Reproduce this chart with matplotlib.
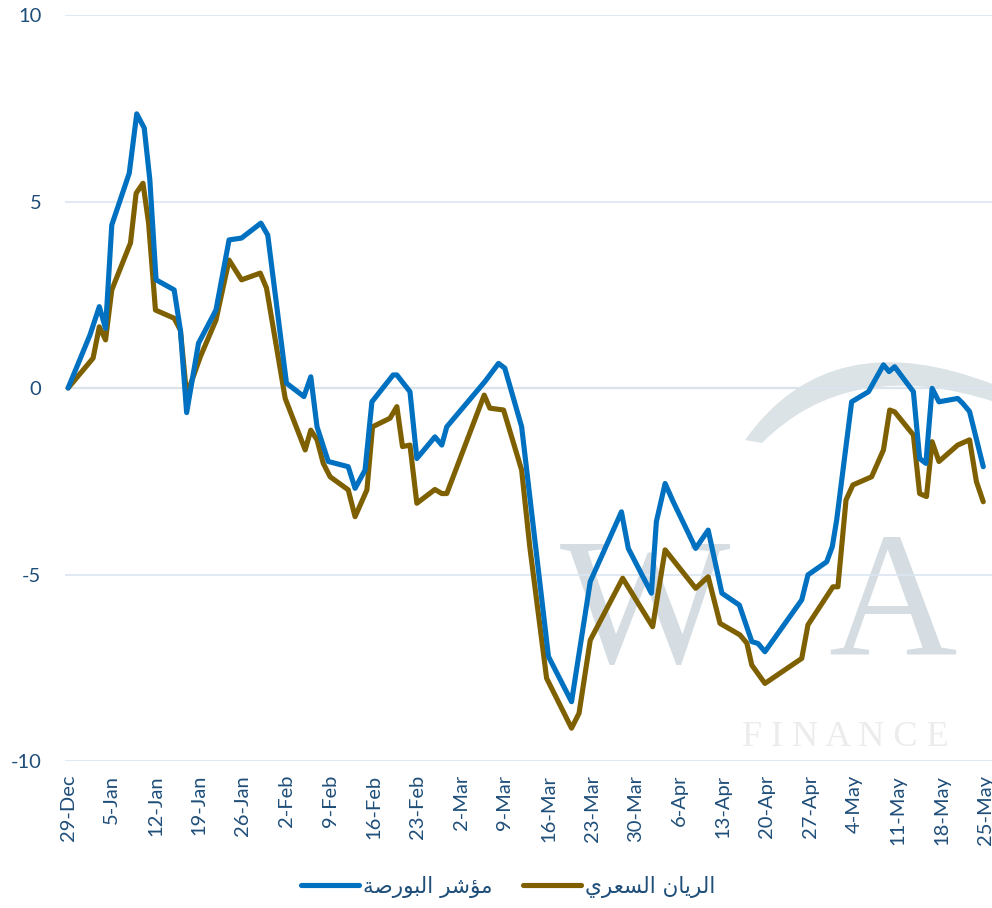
import matplotlib
matplotlib.use('Agg')
import matplotlib.pyplot as plt
from matplotlib.path import Path
from matplotlib.patches import PathPatch

# days counted from 29-Dec
blue_days = [0, 3.5, 5, 6, 7, 9.8, 11, 12.2, 13.1, 14.1, 17, 18, 19, 20.9, 23.7, 25.8, 27.8,
             30.9, 32, 35, 37.8, 38.9, 39.9, 41.7, 44.9, 46, 47.6, 48.7, 52.1, 52.7, 54.8,
             55.9, 58.8, 59.9, 60.7, 66.8, 69, 70, 72.7, 77, 80.7, 83.7, 88.7, 89.8, 93.5,
             94.3, 95.7, 97, 100.6, 102.6, 104.8, 107.6, 109.6, 110.6, 111.7, 117.6, 118.6,
             121.6, 122.5, 123.2, 125.6, 128.3, 130.7, 131.6, 132.5, 135.5, 136.5, 137.5,
             138.5, 139.6, 142.6, 143.4, 144.5, 146.7]
blue_vals = [0, 1.42, 2.18, 1.6, 4.37, 5.76, 7.35, 6.97, 5.58, 2.9, 2.63, 1.55, -0.66, 1.2,
             2.09, 3.97, 4.02, 4.42, 4.1, 0.13, -0.23, 0.3, -1.04, -1.97, -2.11, -2.69, -2.2,
             -0.37, 0.35, 0.35, -0.1, -1.89, -1.31, -1.53, -1.04, 0.17, 0.66, 0.53, -1.04,
             -7.2, -8.41, -5.19, -3.32, -4.3, -5.5, -3.58, -2.56, -3.05, -4.3, -3.81, -5.5,
             -5.82, -6.8, -6.85, -7.07, -5.68, -5.01, -4.66, -4.25, -3.54, -0.37, -0.1, 0.62,
             0.44, 0.57, -0.1, -1.89, -2.02, -0.01, -0.37, -0.28, -0.41, -0.63, -2.11]

brown_days = [0, 4, 5, 6, 7, 10, 10.9, 12, 12.9, 14, 17, 18, 19, 21.2, 23.7, 25.8, 27.8, 30.8,
              31.8, 34.8, 38, 38.9, 39.9, 40.9, 42, 44.9, 46, 47.9, 48.8, 51.6, 52.7, 53.6,
              54.8, 55.9, 58.8, 59.9, 60.7, 66.7, 67.6, 69.8, 72.7, 74, 76.7, 80.7, 81.9,
              83.7, 88.9, 93.7, 95.7, 100.6, 102.6, 104.5, 107.7, 108.8, 109.6, 111.7, 117.6,
              118.6, 122.6, 123.4, 124.7, 125.8, 128.8, 130.7, 131.7, 132.5, 135.5, 136.5,
              137.6, 138.5, 139.6, 142.6, 144.5, 145.6, 146.7]
brown_vals = [0, 0.8, 1.64, 1.29, 2.63, 3.89, 5.22, 5.49, 4.42, 2.09, 1.87, 1.55, -0.19, 0.84,
              1.82, 3.43, 2.9, 3.08, 2.68, -0.28, -1.66, -1.13, -1.39, -2.02, -2.38, -2.73,
              -3.45, -2.73, -1.04, -0.81, -0.5, -1.57, -1.53, -3.09, -2.72, -2.83, -2.83,
              -0.19, -0.54, -0.59, -2.2, -4.25, -7.78, -9.12, -8.72, -6.76, -5.1, -6.4, -4.34,
              -5.37, -5.06, -6.31, -6.62, -6.84, -7.43, -7.92, -7.25, -6.35, -5.33, -5.33,
              -3.0, -2.6, -2.38, -1.66, -0.59, -0.64, -1.26, -2.83, -2.91, -1.44, -1.97,
              -1.53, -1.39, -2.51, -3.05]

tick_days = list(range(0, 148, 7))
tick_labels = ['29-Dec', '5-Jan', '12-Jan', '19-Jan', '26-Jan', '2-Feb', '9-Feb', '16-Feb',
               '23-Feb', '2-Mar', '9-Mar', '16-Mar', '23-Mar', '30-Mar', '6-Apr', '13-Apr',
               '20-Apr', '27-Apr', '4-May', '11-May', '18-May', '25-May']

# Arabic labels in shaped presentation forms, visual order
# مؤشر البورصة / الريان السعري
label_blue = '\uFE94\uFEBB\uFEAD\uFEEE\uFE92\uFEDF\uFE8D \uFEAE\uFEB7\uFE86\uFEE3'
label_brown = '\uFEF1\uFEAE\uFECC\uFEB4\uFEDF\uFE8D \uFEE5\uFE8E\uFEF3\uFEAE\uFEDF\uFE8D'

txt_col = '#1F4E79'
plt.rcParams['font.family'] = ['Lato', 'DejaVu Sans']

fig = plt.figure(figsize=(9.92, 9.08), dpi=100)
W, H = 992, 908

# faint watermark behind the plot
fig.text(560 / W, 1 - 662 / H, 'W', fontsize=130, family='Liberation Serif',
         color='#CBD5DB', alpha=0.8, zorder=0)
fig.text(828 / W, 1 - 655 / H, 'A', fontsize=128, family='Liberation Serif',
         color='#CBD5DB', alpha=0.8, zorder=0)
fig.text(742 / W, 1 - 746 / H, 'F I N A N C E', fontsize=26, family='Liberation Serif',
         color='#ECECEC', zorder=0)
arc = Path([(745 / W, 1 - 440 / H), (830 / W, 1 - 320 / H), (995 / W, 1 - 385 / H),
            (995 / W, 1 - 402 / H), (850 / W, 1 - 355 / H), (762 / W, 1 - 443 / H),
            (745 / W, 1 - 440 / H)],
           [Path.MOVETO, Path.CURVE3, Path.CURVE3, Path.LINETO, Path.CURVE3, Path.CURVE3,
            Path.CLOSEPOLY])
fig.patches.append(PathPatch(arc, transform=fig.transFigure, facecolor='#D3DCE1',
                             edgecolor='none', alpha=0.8, zorder=0))

ax = fig.add_axes([65 / W, 1 - 761 / H, 1 - 65 / W, (761 - 15) / H])
ax.set_zorder(2)
ax.patch.set_alpha(0)

ax.plot(blue_days, blue_vals, color='#0070C0', lw=3.7, label=label_blue,
        solid_joinstyle='round', solid_capstyle='round', zorder=3)
ax.plot(brown_days, brown_vals, color='#7F6000', lw=3.7, label=label_brown,
        solid_joinstyle='round', solid_capstyle='round', zorder=2)

ax.set_xlim(-0.5, 148.1)
ax.set_ylim(-10, 10)
ax.set_yticks([-10, -5, 0, 5, 10])
ax.set_yticklabels(['-10', '-5', '0', '5', '10'])
ax.grid(axis='y', color='#DCE6F2', lw=1.2)
ax.axhline(0, color='#D9D9D9', lw=1.6, zorder=1)
ax.set_xticks(tick_days)
ax.set_xticklabels(tick_labels, rotation=90)
for s in ax.spines.values():
    s.set_visible(False)
ax.tick_params(axis='y', length=0, pad=17, labelsize=14.5, labelcolor=txt_col)
ax.tick_params(axis='x', length=0, pad=10, labelsize=14.5, labelcolor=txt_col)

leg = fig.legend(loc='center', bbox_to_anchor=(508 / W, 1 - 887 / H), ncol=2,
                 frameon=False, handlelength=2.7, handletextpad=0.2, columnspacing=1.4,
                 prop={'family': 'DejaVu Sans', 'size': 15.5})
for t in leg.get_texts():
    t.set_color(txt_col)

fig.savefig('out.png', dpi=100)
